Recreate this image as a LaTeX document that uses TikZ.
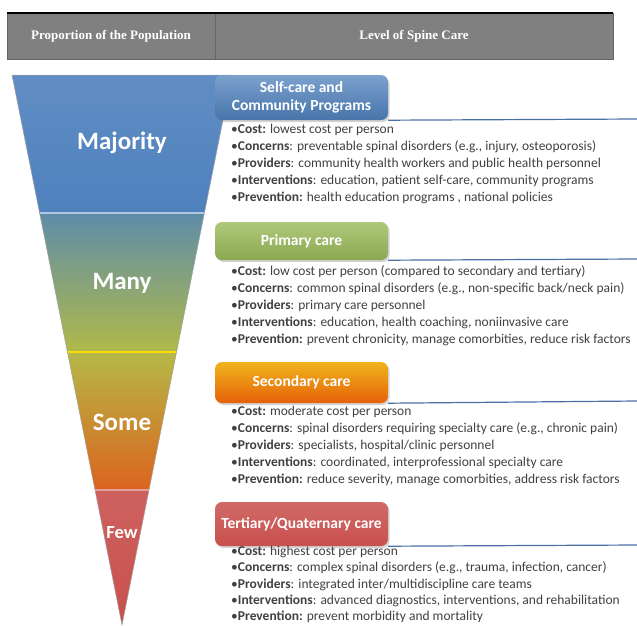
\documentclass[tikz,border=0pt]{standalone}
\usepackage{fontspec}
\setmainfont{Carlito}
\newfontfamily\hdrfont{Liberation Serif}
\usetikzlibrary{shadows}

\definecolor{hdrgray}{HTML}{808080}
\definecolor{careblue}{HTML}{4F81BD}
\definecolor{caregreen}{HTML}{9BBB59}
\definecolor{careorange}{HTML}{E46C0A}
\definecolor{careyellow}{HTML}{F0B41C}
\definecolor{carered}{HTML}{C8504D}
\definecolor{linkblue}{HTML}{4A6FA5}

\begin{document}
\begin{tikzpicture}[x=1pt,y=-1pt,
 hdr/.style={draw=black!60, fill=hdrgray, text=white, inner sep=0pt,
   font=\hdrfont\bfseries\fontsize{13}{15}\selectfont},
 lvl/.style={rounded corners=7pt, minimum width=173pt, text=white, align=center,
   font=\bfseries\fontsize{15.5}{18}\selectfont,
   drop shadow={shadow xshift=1.5pt, shadow yshift=-2pt, opacity=0.35}},
 pop/.style={text=white, font=\bfseries\fontsize{25}{27}\selectfont},
 info/.style={anchor=north west, align=left, inner sep=0pt, text=black!75,
   font=\fontsize{13.5}{17}\selectfont},
 sepline/.style={draw=linkblue, line width=1.2pt}]

\useasboundingbox (0,0) rectangle (637,625);

% header
\node[hdr, minimum width=208pt, minimum height=46pt] (popcol) at (111,36) {Proportion of the Population};
\node[hdr, minimum width=398pt, minimum height=46pt] (carecol) at (414,36) {Level of Spine Care};
\draw[line width=1.5pt] (popcol.north west) -- (carecol.north east);

% funnel
\coordinate (ftl) at (12,75);
\coordinate (ftr) at (232,75);
\coordinate (tip) at (122,625);
\begin{scope}
\clip (ftl) -- (ftr) -- (tip) -- cycle;
\shade[top color=careblue!90!white, bottom color=careblue] (0,75) rectangle (240,213);
\shade[top color=careblue!80!caregreen, middle color=caregreen, bottom color=caregreen!75!careyellow] (0,213) rectangle (240,352);
\shade[top color=caregreen!70!careyellow, middle color=careyellow!60!careorange, bottom color=careorange!70!carered] (0,352) rectangle (240,490);
\shade[top color=carered!90!white, bottom color=carered] (0,490) rectangle (240,625);
\draw[careblue!45!white, line width=1.5pt] (39.6,213) -- (204.4,213);
\draw[yellow!80!orange, line width=1.5pt] (67.4,352) -- (176.6,352);
\draw[carered!55!white, line width=1.5pt] (95,490) -- (149,490);
\end{scope}
\draw[black!35, line width=0.5pt] (ftl) -- (ftr) -- (tip) -- cycle;

\node[pop] (major) at (122,143) {Majority};
\node[pop] (many) at (122,283) {Many};
\node[pop] (some) at (122,422) {Some};
\node[pop, font=\bfseries\fontsize{18.5}{20}\selectfont] (few) at (122,533) {Few};

% levels of care
\node[lvl, minimum height=45pt, top color=careblue!75!white, bottom color=careblue!90!black] (selfcare) at (301.5,97.5) {Self-care and\\Community Programs};
\node[lvl, minimum height=38pt, top color=caregreen!80!white, bottom color=caregreen!90!black] (primary) at (301.5,241) {Primary care};
\node[lvl, minimum height=41pt, top color=careyellow, bottom color=careorange!90!red] (secondary) at (301.5,382.5) {Secondary care};
\node[lvl, minimum height=44pt, top color=carered!85!white, bottom color=carered] (tertiary) at (301.5,524) {Tertiary/Quaternary care};

\coordinate (e1) at (637,119);
\coordinate (e2) at (637,259);
\coordinate (e3) at (637,401);
\coordinate (e4) at (637,545);
\draw[sepline] (selfcare.south east) -- (e1);
\draw[sepline] (primary.south east) -- (e2);
\draw[sepline] (secondary.south east) -- (e3);
\draw[sepline] (tertiary.south east) -- (e4);

\node[info] (selfinfo) at (231,124) {%
•\textbf{Cost:} lowest cost per person\\
•\textbf{Concerns}: preventable spinal disorders (e.g., injury, osteoporosis)\\
•\textbf{Providers}: community health workers and public health personnel\\
•\textbf{Interventions}: education, patient self-care, community programs\\
•\textbf{Prevention:} health education programs , national policies};

\node[info] (priminfo) at (231,265) {%
•\textbf{Cost:} low cost per person (compared to secondary and tertiary)\\
•\textbf{Concerns}: common  spinal disorders (e.g., non-specific back/neck pain)\\
•\textbf{Providers}: primary care personnel\\
•\textbf{Interventions}: education, health coaching, noniinvasive care\\
•\textbf{Prevention:} prevent chronicity, manage comorbities, reduce risk factors};

\node[info] (secinfo) at (231,406) {%
•\textbf{Cost:} moderate  cost per person\\
•\textbf{Concerns}: spinal disorders requiring specialty care (e.g., chronic pain)\\
•\textbf{Providers}: specialists, hospital/clinic personnel\\
•\textbf{Interventions}: coordinated, interprofessional specialty care\\
•\textbf{Prevention:} reduce severity, manage comorbities,  address risk factors};

\node[info, font=\fontsize{13.5}{16.3}\selectfont] (terinfo) at (231,546) {%
•\textbf{Cost:} highest cost per person\\
•\textbf{Concerns}: complex spinal disorders (e.g., trauma, infection, cancer)\\
•\textbf{Providers}: integrated inter/multidiscipline care teams\\
•\textbf{Interventions}: advanced diagnostics, interventions, and rehabilitation\\
•\textbf{Prevention:} prevent morbidity  and mortality};
\end{tikzpicture}
\end{document}
